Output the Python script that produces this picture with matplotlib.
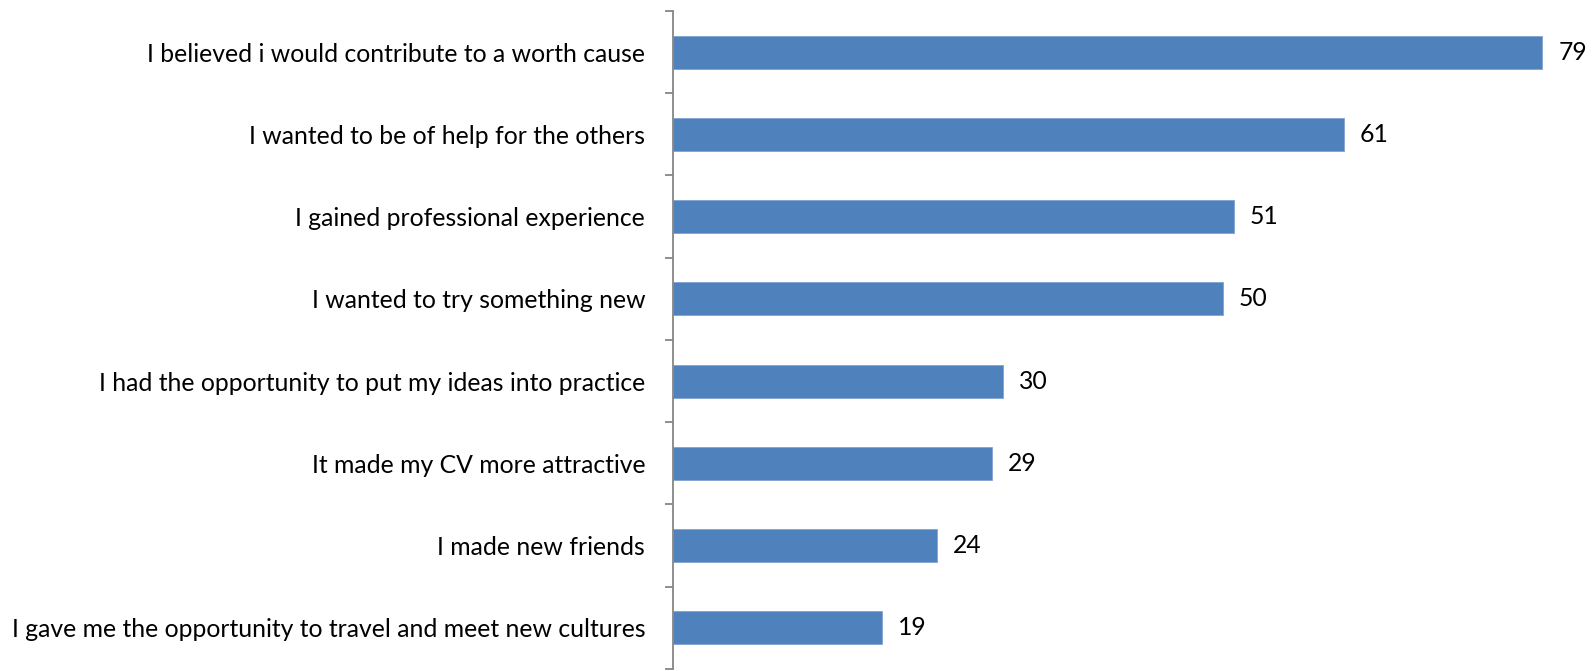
import numpy as np
import matplotlib.pyplot as plt

labels = [
    "I believed i would contribute to a worth cause",
    "I wanted to be of help for the others",
    "I gained professional experience",
    "I wanted to try something new",
    "I had the opportunity to put my ideas into practice",
    "It made my CV more attractive",
    "I made new friends",
    "I gave me the opportunity to travel and meet new cultures",
]
values = [79, 61, 51, 50, 30, 29, 24, 19]

plt.rcParams['font.family'] = ['Lato', 'DejaVu Sans']

fig = plt.figure(figsize=(15.95, 6.71), dpi=100)
ax = fig.add_axes([673 / 1595, 2 / 671, 922 / 1595, 658 / 671])

y = np.arange(len(labels))
ax.barh(y, values, height=0.4, color='#4F81BD', edgecolor='#7FA3D0', linewidth=0.6)

for yi, v in zip(y, values):
    ax.text(v + 1.45, yi, str(v), va='center', ha='left', fontsize=17.8, color='black')

ax.set_xlim(0, 83.8)
ax.set_ylim(len(labels) - 0.5, -0.5)
ax.set_yticks(y)
ax.set_yticklabels(labels, fontsize=17.8)
ax.set_yticks(np.arange(-0.5, len(labels)), minor=True)
ax.tick_params(axis='y', which='major', length=0, pad=20)
ax.tick_params(axis='y', which='minor', length=6, color='#868686', width=1.3)
ax.set_xticks([])

for s in ['top', 'right', 'bottom']:
    ax.spines[s].set_visible(False)
ax.spines['left'].set_color('#868686')
ax.spines['left'].set_linewidth(1.3)

fig.savefig("out.png", dpi=100)
plt.close()
